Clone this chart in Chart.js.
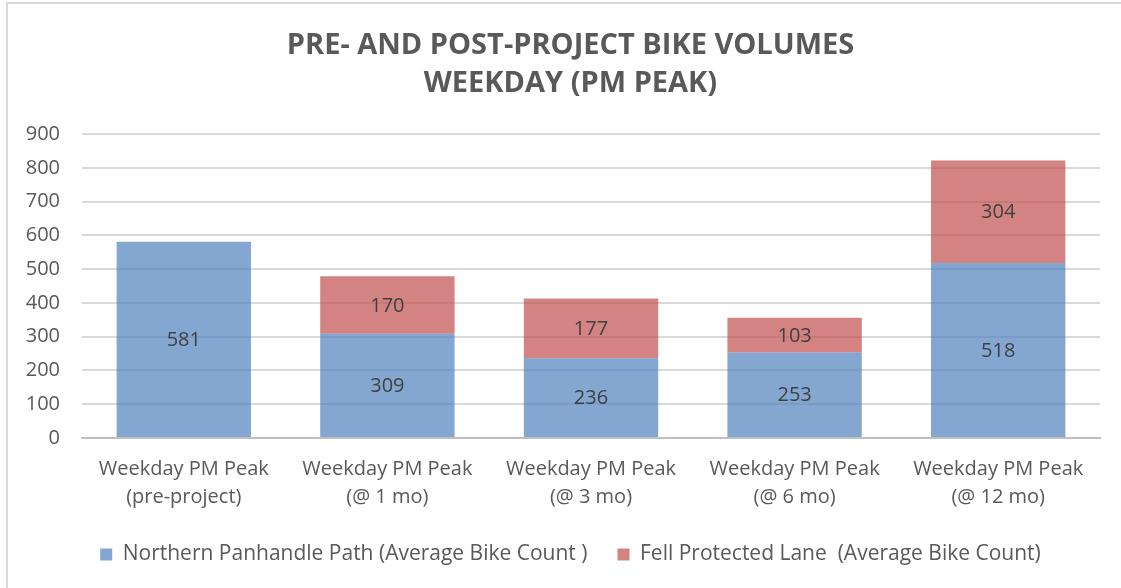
<!DOCTYPE html>
<html>
<head>
<meta charset="utf-8">
<script src="https://cdn.jsdelivr.net/npm/chart.js@4"></script>
<style>
html,body{margin:0;padding:0;background:#fff;}
#wrap{width:1121px;height:588px;position:relative;}
</style>
</head>
<body>
<div id="wrap"><canvas id="c" width="1121" height="588"></canvas></div>
<script>
const categories = [
  ["Weekday PM Peak", "(pre-project)"],
  ["Weekday PM Peak", "(@ 1 mo)"],
  ["Weekday PM Peak", "(@ 3 mo)"],
  ["Weekday PM Peak", "(@ 6 mo)"],
  ["Weekday PM Peak", "(@ 12 mo)"]
];
const northernPanhandle = [581, 309, 236, 253, 518];
const fellProtected = [null, 170, 177, 103, 304];
const seriesNames = ["Northern Panhandle Path (Average Bike Count )", "Fell Protected Lane  (Average Bike Count)"];
const titleLines = ["PRE- AND POST-PROJECT BIKE VOLUMES", "WEEKDAY (PM PEAK)"];

const FONT = "'Open Sans', 'Liberation Sans', sans-serif";

const frame = {
  id: 'frame',
  beforeDraw(chart) {
    const ctx = chart.ctx;
    ctx.save();
    ctx.fillStyle = '#fff';
    ctx.fillRect(0, 0, chart.width, chart.height);
    ctx.strokeStyle = '#d9d9d9';
    ctx.lineWidth = 2;
    ctx.beginPath();
    ctx.moveTo(7, chart.height);
    ctx.lineTo(7, 3);
    ctx.lineTo(chart.width, 3);
    ctx.stroke();
    ctx.restore();
  }
};

const dataLabels = {
  id: 'dataLabels',
  afterDatasetsDraw(chart) {
    const ctx = chart.ctx;
    ctx.save();
    ctx.font = "20px " + FONT;
    ctx.fillStyle = '#404040';
    ctx.textAlign = 'center';
    ctx.textBaseline = 'middle';
    chart.data.datasets.forEach((ds, i) => {
      const meta = chart.getDatasetMeta(i);
      meta.data.forEach((bar, j) => {
        const v = ds.data[j];
        if (v == null) return;
        const y = (bar.y + bar.base) / 2;
        ctx.fillText(String(v), bar.x, y + 1);
      });
    });
    ctx.restore();
  }
};

new Chart(document.getElementById('c'), {
  type: 'bar',
  data: {
    labels: categories,
    datasets: [
      { label: seriesNames[0], data: northernPanhandle, backgroundColor: 'rgba(79,129,189,0.7)', borderWidth: 0 },
      { label: seriesNames[1], data: fellProtected, backgroundColor: 'rgba(192,80,77,0.7)', borderWidth: 0 }
    ]
  },
  options: {
    responsive: false,
    animation: false,
    devicePixelRatio: 1,
    layout: { padding: { left: 20, right: 0, top: 12, bottom: 13 } },
    datasets: { bar: { categoryPercentage: 0.66, barPercentage: 1 } },
    plugins: {
      title: {
        display: true,
        text: titleLines,
        color: '#595959',
        font: { family: FONT, size: 29, weight: 'bold', lineHeight: 1.33 },
        padding: { top: 14, bottom: 31 }
      },
      legend: {
        position: 'bottom',
        labels: {
          color: '#595959',
          font: { family: FONT, size: 21 },
          boxWidth: 12,
          boxHeight: 12,
          padding: 30
        }
      },
      tooltip: { enabled: false }
    },
    scales: {
      x: {
        stacked: true,
        grid: { display: false, drawTicks: false },
        border: { display: true, color: '#bfbfbf', width: 2 },
        afterFit(s) { s.height -= 14; },
        ticks: { color: '#595959', font: { family: FONT, size: 20, lineHeight: 1.4 }, padding: 17, maxRotation: 0 }
      },
      y: {
        stacked: true,
        min: 0, max: 900,
        afterFit(s) { s.width = 62; },
        grid: { color: '#d9d9d9', lineWidth: 2, drawTicks: false },
        border: { display: false },
        ticks: { stepSize: 100, color: '#595959', font: { family: FONT, size: 20 }, padding: 22 }
      },
      yRight: {
        position: 'right',
        display: true,
        min: 0, max: 900,
        afterFit(s) { s.width = 21; },
        grid: { display: false, drawTicks: false },
        border: { display: false },
        ticks: { display: false }
      }
    }
  },
  plugins: [frame, dataLabels]
});
</script>
</body>
</html>
